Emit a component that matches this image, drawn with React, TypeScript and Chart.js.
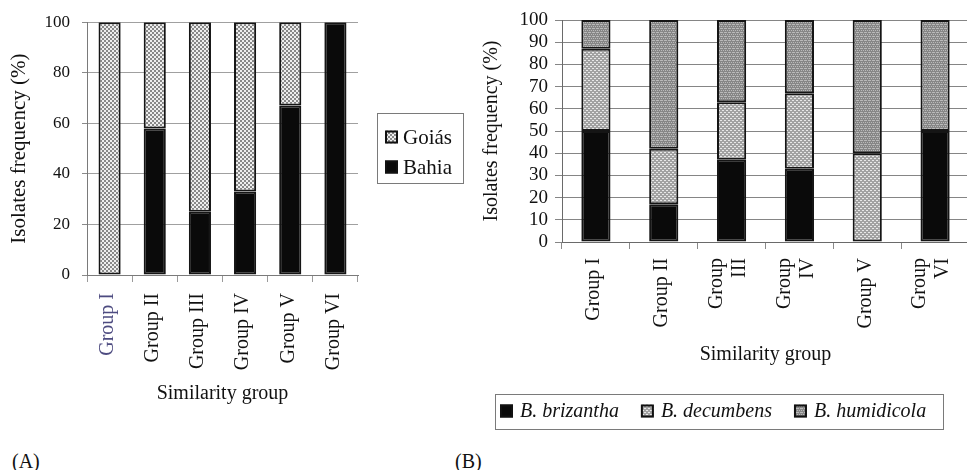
import React, { useEffect, useRef } from 'react';
import { Chart, registerables } from 'chart.js';

Chart.register(...registerables);

const FONT = "'Liberation Serif', 'Times New Roman', Times, serif";

// ---- Data (A) ----
const groupsA = ['Group I', 'Group II', 'Group III', 'Group IV', 'Group V', 'Group VI'];
const bahia = [0, 58, 25, 33, 67, 100];
const goias = [100, 42, 75, 67, 33, 0];
const yTicksA = { min: 0, max: 100, step: 20 };

// ---- Data (B) ----
const groupsB: (string | string[])[] = ['Group I', 'Group II', ['Group', 'III'], ['Group', 'IV'], 'Group V', ['Group', 'VI']];
const brizantha = [50, 17, 37, 33, 0, 50];
const decumbens = [37, 25, 26, 34, 40, 0];
const humidicola = [13, 58, 37, 33, 60, 50];
const yTicksB = { min: 0, max: 100, step: 10 };

function makePattern(kind: string): CanvasPattern | string {
  const c = document.createElement('canvas');
  c.width = 4;
  c.height = 4;
  const g = c.getContext('2d');
  if (!g) return '#aaa';
  if (kind === 'goias') {
    g.fillStyle = '#eeeeee';
    g.fillRect(0, 0, 4, 4);
    g.fillStyle = '#888888';
    g.fillRect(0, 0, 2, 2);
    g.fillRect(2, 2, 2, 2);
  } else if (kind === 'decumbens') {
    g.fillStyle = '#a2a2a2';
    g.fillRect(0, 0, 4, 4);
    g.fillStyle = '#e8e8e8';
    g.fillRect(0, 0, 2, 1);
    g.fillRect(2, 2, 2, 1);
  } else {
    g.fillStyle = '#868686';
    g.fillRect(0, 0, 4, 4);
    g.fillStyle = '#b9b9b9';
    g.fillRect(0, 0, 3, 1);
    g.fillRect(1, 2, 1, 1);
    g.fillRect(3, 2, 1, 1);
  }
  return g.createPattern(c, 'repeat') || '#aaa';
}

type LegendCfg = {
  box: { x: number; y: number; w: number; h: number };
  order: number[];
  font: string;
  startX: number;
  startY: number;
  sw: number;
  gap: number;
  vertical: boolean;
  rowGap: number;
  itemGap: number;
};

function makeBoxLegend(cfg: LegendCfg) {
  return {
    id: 'boxLegend',
    afterDraw(chart: any) {
      const ctx = chart.ctx as CanvasRenderingContext2D;
      const b = cfg.box;
      ctx.save();
      ctx.strokeStyle = '#7a7a7a';
      ctx.lineWidth = 1;
      ctx.strokeRect(b.x + 0.5, b.y + 0.5, b.w, b.h);
      ctx.font = cfg.font;
      ctx.textBaseline = 'middle';
      ctx.textAlign = 'left';
      let x = cfg.startX;
      let y = cfg.startY;
      for (const di of cfg.order) {
        const ds = chart.data.datasets[di];
        ctx.fillStyle = ds.backgroundColor;
        ctx.fillRect(x, y - cfg.sw / 2, cfg.sw, cfg.sw);
        ctx.strokeStyle = '#111';
        ctx.lineWidth = 2;
        ctx.strokeRect(x + 1, y - cfg.sw / 2 + 1, cfg.sw - 2, cfg.sw - 2);
        ctx.fillStyle = '#111';
        ctx.fillText(ds.label, x + cfg.sw + cfg.gap, y + 1);
        if (cfg.vertical) y += cfg.rowGap;
        else x += cfg.sw + cfg.gap + ctx.measureText(ds.label).width + cfg.itemGap;
      }
      ctx.restore();
    },
  };
}

// nudges rotated x tick labels sideways (multi-line labels get centred on their bar)
function makeLabelShift(single: number, multi: number) {
  return {
    id: 'labelShift',
    beforeDraw(chart: any) {
      const sc = chart.scales.x;
      if (!sc || !sc.getLabelItems) return;
      const items = sc.getLabelItems();
      items.forEach((it: any) => {
        if (it.__shifted) return;
        const n = Array.isArray(it.label) ? it.label.length : 1;
        it.options.translation[0] += n > 1 ? multi : single;
        it.__shifted = true;
      });
    },
  };
}

function ChartA() {
  const ref = useRef<HTMLCanvasElement>(null);
  useEffect(() => {
    if (!ref.current) return;
    const patG = makePattern('goias');
    const chart = new Chart(ref.current, {
      type: 'bar',
      data: {
        labels: groupsA,
        datasets: [
          { label: 'Bahia', data: bahia, backgroundColor: '#0a0a0a', borderColor: '#151515', borderWidth: 2, borderSkipped: false },
          { label: 'Goiás', data: goias, backgroundColor: patG as any, borderColor: '#151515', borderWidth: 2, borderSkipped: false },
        ],
      },
      options: {
        responsive: false,
        animation: false,
        layout: { padding: { top: 15, right: 112, bottom: 0, left: 0 } },
        datasets: { bar: { categoryPercentage: 1, barPercentage: 0.49 } },
        plugins: { legend: { display: false }, tooltip: { enabled: false } },
        scales: {
          x: {
            stacked: true,
            grid: {
              offset: true,
              drawOnChartArea: true,
              color: (c: any) => (c.index === groupsA.length ? '#8a8a8a' : 'rgba(0,0,0,0)'),
              tickColor: '#9a9a9a',
              tickLength: 7,
            },
            border: { color: '#7a7a7a' },
            ticks: {
              minRotation: 90,
              maxRotation: 90,
              padding: 11,
              font: { family: FONT, size: 20 },
              color: (c: any) => (c.index === 0 ? '#4d4b80' : '#111'),
            },
            title: { display: true, text: 'Similarity group', color: '#111', font: { family: FONT, size: 20 }, padding: { top: 0, bottom: 14 } },
            afterFit: (s: any) => {
              s.height = 145;
              s.paddingLeft = 0;
              s.paddingRight = 0;
            },
          },
          y: {
            stacked: true,
            min: yTicksA.min,
            max: yTicksA.max,
            ticks: { stepSize: yTicksA.step, padding: 12, color: '#111', font: { family: FONT, size: 17 } },
            grid: { color: '#a0a0a0', tickLength: 5, tickColor: '#8a8a8a' },
            border: { color: '#7a7a7a' },
            title: { display: true, text: 'Isolates frequency (%)', color: '#111', font: { family: FONT, size: 21 }, padding: { top: 7, bottom: 0 } },
            afterFit: (s: any) => {
              s.width = 87;
            },
          },
        },
      },
      plugins: [
        makeLabelShift(-2, 0),
        makeBoxLegend({
          box: { x: 377, y: 113, w: 86, h: 70 },
          order: [1, 0],
          font: `21px ${FONT}`,
          startX: 385,
          startY: 137,
          sw: 13,
          gap: 5,
          vertical: true,
          rowGap: 30,
          itemGap: 0,
        }),
      ],
    } as any);
    return () => chart.destroy();
  }, []);
  return <canvas ref={ref} width={470} height={420} style={{ width: 470, height: 420, display: 'block' }} />;
}

function ChartB() {
  const ref = useRef<HTMLCanvasElement>(null);
  useEffect(() => {
    if (!ref.current) return;
    const patD = makePattern('decumbens');
    const patH = makePattern('humidicola');
    const chart = new Chart(ref.current, {
      type: 'bar',
      data: {
        labels: groupsB,
        datasets: [
          { label: 'B. brizantha', data: brizantha, backgroundColor: '#0a0a0a', borderColor: '#151515', borderWidth: 2, borderSkipped: false },
          { label: 'B. decumbens', data: decumbens, backgroundColor: patD as any, borderColor: '#151515', borderWidth: 2, borderSkipped: false },
          { label: 'B. humidicola', data: humidicola, backgroundColor: patH as any, borderColor: '#151515', borderWidth: 2, borderSkipped: false },
        ],
      },
      options: {
        responsive: false,
        animation: false,
        layout: { padding: { top: 20, right: 1, bottom: 0, left: 0 } },
        datasets: { bar: { categoryPercentage: 1, barPercentage: 0.43 } },
        plugins: { legend: { display: false }, tooltip: { enabled: false } },
        scales: {
          x: {
            stacked: true,
            grid: { offset: true, drawOnChartArea: false, tickColor: '#8a8a8a', tickLength: 7 },
            border: { color: '#6a6a6a' },
            ticks: {
              minRotation: 90,
              maxRotation: 90,
              padding: 9,
              font: { family: FONT, size: 20, lineHeight: 1.15 },
              color: '#111',
            },
            title: { display: true, text: 'Similarity group', color: '#111', font: { family: FONT, size: 20 }, padding: { top: 0, bottom: 73 } },
            afterFit: (s: any) => {
              s.height = 198;
              s.paddingLeft = 0;
              s.paddingRight = 0;
            },
          },
          y: {
            stacked: true,
            min: yTicksB.min,
            max: yTicksB.max,
            ticks: { stepSize: yTicksB.step, autoSkip: false, maxTicksLimit: 11, padding: 7, color: '#111', font: { family: FONT, size: 19, lineHeight: 1 } },
            grid: { color: '#858585', tickLength: 7, tickColor: '#858585' },
            border: { color: '#6a6a6a' },
            title: { display: true, text: 'Isolates frequency (%)', color: '#111', font: { family: FONT, size: 20 }, padding: { top: 0, bottom: 0 } },
            afterFit: (s: any) => {
              s.width = 82;
            },
          },
        },
      },
      plugins: [
        makeLabelShift(-2, -15),
        makeBoxLegend({
          box: { x: 15, y: 394, w: 448, h: 35 },
          order: [0, 1, 2],
          font: `italic 20px ${FONT}`,
          startX: 20,
          startY: 411,
          sw: 13,
          gap: 7,
          vertical: false,
          rowGap: 0,
          itemGap: 22,
        }),
      ],
    } as any);
    return () => chart.destroy();
  }, []);
  return <canvas ref={ref} width={490} height={440} style={{ width: 490, height: 440, display: 'block' }} />;
}

export default function App() {
  const labelStyle: React.CSSProperties = {
    position: 'absolute',
    fontFamily: FONT,
    fontSize: 20,
    lineHeight: '20px',
    color: '#111',
  };
  return (
    <div style={{ position: 'absolute', left: 0, top: 0, width: 967, height: 470, overflow: 'hidden', background: '#fff' }}>
      <div style={{ position: 'absolute', left: 0, top: 0, width: 470, height: 420 }}>
        <ChartA />
      </div>
      <div style={{ position: 'absolute', left: 480, top: 0, width: 490, height: 440 }}>
        <ChartB />
      </div>
      <div style={{ ...labelStyle, left: 12, top: 451 }}>(A)</div>
      <div style={{ ...labelStyle, left: 455, top: 451 }}>(B)</div>
    </div>
  );
}
